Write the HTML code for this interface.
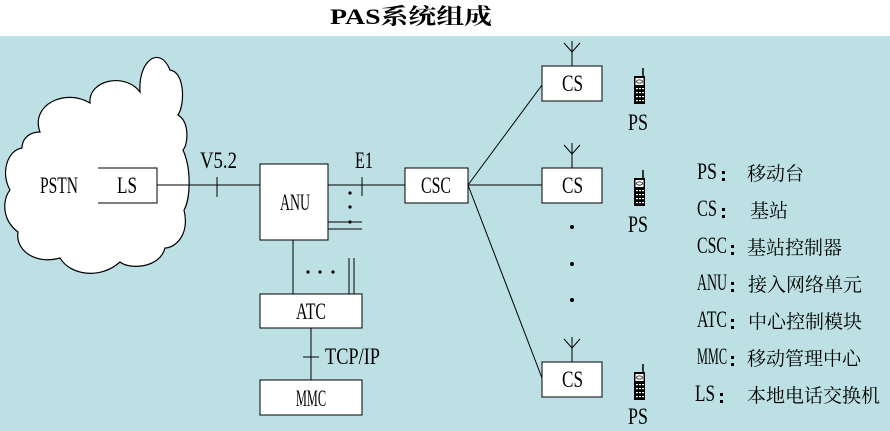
<!DOCTYPE html>
<html><head><meta charset="utf-8"><style>
body{margin:0;width:890px;height:431px;overflow:hidden;background:#fff}
svg{display:block}
text{font-family:"Liberation Serif","Noto Serif CJK SC",serif;fill:#000}
.c{font-family:"Noto Serif CJK SC","Noto Sans CJK SC",serif}
</style></head><body>
<svg width="890" height="431" viewBox="0 0 890 431">
<rect x="0" y="36" width="890" height="395" fill="#bce0e3"/>
<text x="330" y="24" font-size="22" font-weight="bold" textLength="162" lengthAdjust="spacingAndGlyphs">PAS系统组成</text>
<g stroke="#000" stroke-width="1.2">
<path d="M40,132 C30,105 65,88 90,103 C88,80 125,72 140,92 C138,60 160,45 170,70 C185,72 185,105 178,115 C190,122 188,145 183,150 C192,170 190,200 184,210 C190,235 175,248 165,248 C160,268 130,270 120,262 C100,280 70,275 60,258 C35,265 15,250 18,232 C2,220 2,200 10,190 C0,172 8,150 22,148 C22,138 30,132 40,132 Z" fill="#fff"/>
</g>
<g stroke="#000" stroke-width="1" fill="#fff">
<path d="M98,168 H157 V203 H98" fill="none"/>
<rect x="260" y="164" width="68" height="76"/>
<rect x="405" y="168" width="63" height="35"/>
<rect x="260" y="294" width="102" height="34"/>
<rect x="260" y="380" width="102" height="35"/>
<rect x="542" y="66" width="60" height="35"/>
<rect x="542" y="168" width="60" height="35"/>
<rect x="542" y="362" width="60" height="35"/>
</g>
<g stroke="#000" stroke-width="1" fill="none">
<line x1="157" y1="185" x2="260" y2="185"/><line x1="217" y1="177" x2="217" y2="197"/>
<line x1="328" y1="185" x2="405" y2="185"/><line x1="362" y1="177" x2="362" y2="196"/>
<line x1="328" y1="222" x2="362" y2="222"/><line x1="328" y1="229" x2="362" y2="229"/>
<line x1="293" y1="240" x2="293" y2="294"/>
<line x1="349" y1="258" x2="349" y2="294"/><line x1="354" y1="258" x2="354" y2="294"/>
<line x1="311" y1="328" x2="311" y2="380"/><line x1="303" y1="357" x2="319" y2="357"/>
<line x1="468" y1="185" x2="542" y2="85"/><line x1="468" y1="185" x2="542" y2="185"/><line x1="468" y1="185" x2="542" y2="378"/>
<path d="M572,66 V52 M564,43 L572,52 L580,43 M572,52 V41"/>
<path d="M572,168 V154 M564,145 L572,154 L580,145 M572,154 V143"/>
<path d="M572,362 V348 M564,339 L572,348 L580,339 M572,348 V337"/>
</g>
<g fill="#000">
<circle cx="350" cy="193" r="1.6"/><circle cx="350" cy="207" r="1.6"/><circle cx="350" cy="222" r="1.6"/>
<circle cx="308" cy="272" r="1.6"/><circle cx="320" cy="272" r="1.6"/><circle cx="333" cy="272" r="1.6"/>
<circle cx="572" cy="227" r="2"/><circle cx="572" cy="264" r="2"/><circle cx="572" cy="300" r="2"/>
</g>
<defs><g id="ph"><rect x="0" y="8" width="11" height="28" fill="#000"/><rect x="1.5" y="10" width="8" height="7" fill="#fff"/><ellipse cx="5.5" cy="13.5" rx="3" ry="1.6" fill="none" stroke="#000" stroke-width="0.8"/><line x1="9" y1="0" x2="9" y2="8" stroke="#000" stroke-width="1.5"/><g fill="#fff"><rect x="2" y="20" width="2" height="1.2"/><rect x="5" y="20" width="2" height="1.2"/><rect x="8" y="20" width="2" height="1.2"/><rect x="2" y="24" width="2" height="1.2"/><rect x="5" y="24" width="2" height="1.2"/><rect x="8" y="24" width="2" height="1.2"/><rect x="2" y="28" width="2" height="1.2"/><rect x="5" y="28" width="2" height="1.2"/><rect x="8" y="28" width="2" height="1.2"/><rect x="2" y="32" width="2" height="1.2"/><rect x="5" y="32" width="2" height="1.2"/><rect x="8" y="32" width="2" height="1.2"/></g></g></defs>
<use href="#ph" x="634" y="68"/><use href="#ph" x="634" y="170"/><use href="#ph" x="634" y="364"/>
<g font-size="23">
<text x="40" y="193" textLength="38" lengthAdjust="spacingAndGlyphs">PSTN</text>
<text x="117" y="193" textLength="20" lengthAdjust="spacingAndGlyphs">LS</text>
<text x="200" y="168" textLength="37" lengthAdjust="spacingAndGlyphs">V5.2</text>
<text x="355" y="168" textLength="18" lengthAdjust="spacingAndGlyphs">E1</text>
<text x="280" y="210" textLength="30" lengthAdjust="spacingAndGlyphs">ANU</text>
<text x="421" y="193" textLength="30" lengthAdjust="spacingAndGlyphs">CSC</text>
<text x="296" y="319" textLength="30" lengthAdjust="spacingAndGlyphs">ATC</text>
<text x="325" y="364" textLength="55" lengthAdjust="spacingAndGlyphs">TCP/IP</text>
<text x="296" y="406" textLength="30" lengthAdjust="spacingAndGlyphs">MMC</text>
<text x="562" y="91" textLength="21" lengthAdjust="spacingAndGlyphs">CS</text>
<text x="562" y="193" textLength="21" lengthAdjust="spacingAndGlyphs">CS</text>
<text x="562" y="387" textLength="21" lengthAdjust="spacingAndGlyphs">CS</text>
<text x="628" y="130" textLength="20" lengthAdjust="spacingAndGlyphs">PS</text>
<text x="628" y="232" textLength="20" lengthAdjust="spacingAndGlyphs">PS</text>
<text x="628" y="424" textLength="20" lengthAdjust="spacingAndGlyphs">PS</text>
<text x="697" y="179" textLength="20" lengthAdjust="spacingAndGlyphs">PS</text>
<text x="697" y="216" textLength="20" lengthAdjust="spacingAndGlyphs">CS</text>
<text x="697" y="253" textLength="30" lengthAdjust="spacingAndGlyphs">CSC</text>
<text x="697" y="290" textLength="30" lengthAdjust="spacingAndGlyphs">ANU</text>
<text x="697" y="327" textLength="30" lengthAdjust="spacingAndGlyphs">ATC</text>
<text x="697" y="364" textLength="30" lengthAdjust="spacingAndGlyphs">MMC</text>
<text x="695" y="401" textLength="20" lengthAdjust="spacingAndGlyphs">LS</text>
</g>
<g fill="#000"><rect x="722" y="171" width="3" height="3"/><rect x="722" y="178" width="3" height="3"/>
<rect x="722" y="208" width="3" height="3"/><rect x="722" y="215" width="3" height="3"/>
<rect x="731" y="245" width="3" height="3"/><rect x="731" y="252" width="3" height="3"/>
<rect x="731" y="282" width="3" height="3"/><rect x="731" y="289" width="3" height="3"/>
<rect x="731" y="319" width="3" height="3"/><rect x="731" y="326" width="3" height="3"/>
<rect x="731" y="356" width="3" height="3"/><rect x="731" y="363" width="3" height="3"/>
<rect x="720" y="393" width="3" height="3"/><rect x="720" y="400" width="3" height="3"/></g>
<g font-size="19">
<text class="c" x="747" y="180">移动台</text>
<text class="c" x="750" y="217">基站</text>
<text class="c" x="747" y="254">基站控制器</text>
<text class="c" x="748" y="291">接入网络单元</text>
<text class="c" x="748" y="328">中心控制模块</text>
<text class="c" x="747" y="365">移动管理中心</text>
<text class="c" x="747" y="402">本地电话交换机</text>
</g>
</svg>
</body></html>
